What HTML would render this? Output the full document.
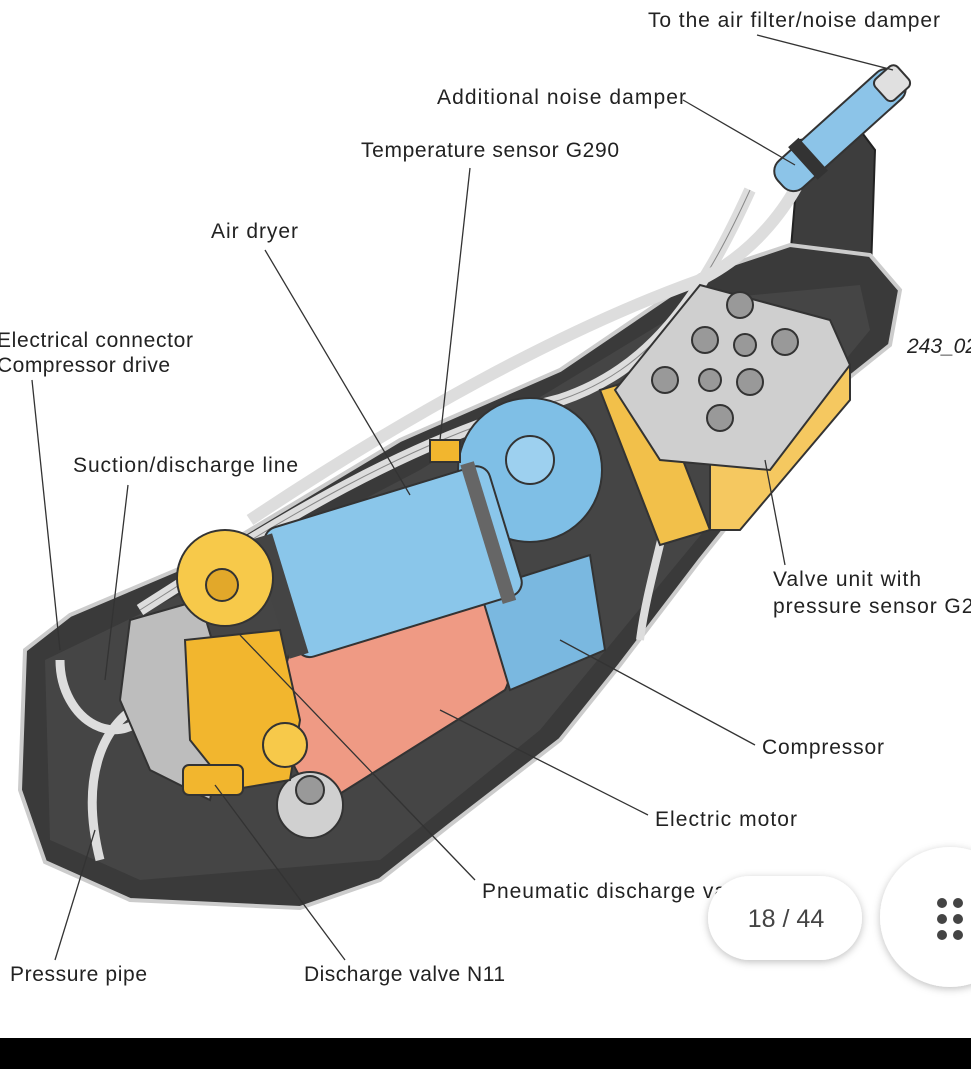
<!DOCTYPE html>
<html><head><meta charset="utf-8"><style>
html,body{margin:0;padding:0;background:#fff;width:971px;height:1069px;overflow:hidden}
svg{display:block}
text{font-family:"Liberation Sans",sans-serif;font-size:21px;fill:#222}
</style></head><body>
<svg width="971" height="1069" viewBox="0 0 971 1069" xmlns="http://www.w3.org/2000/svg">
<defs>
<filter id="sh" x="-30%" y="-30%" width="160%" height="160%"><feDropShadow dx="0" dy="2" stdDeviation="4" flood-color="#000" flood-opacity="0.25"/></filter>
</defs>
<rect width="971" height="1069" fill="#fff"/>
<polygon points="800,140 860,130 875,150 870,300 800,310 790,260" fill="#3d3d3d" stroke="#222" stroke-width="2"/>
<path d="M25,650 L70,615 L200,560 L400,440 L560,370 L700,275 L790,245 L870,255 L900,290 L890,345 L840,385 L700,560 L620,665 L560,740 L450,825 L380,880 L300,908 L130,900 L45,862 L20,790 Z" fill="#3a3a3a" stroke="#ccc" stroke-width="4"/>
<path d="M45,660 L200,585 L420,470 L700,300 L860,285 L870,330 L680,560 L540,730 L380,860 L140,880 L50,840 Z" fill="#454545"/>
<path d="M140,610 C250,540 400,440 560,400 C650,370 700,300 750,190" fill="none" stroke="#ddd" stroke-width="12"/>
<path d="M140,610 C250,540 400,440 560,400 C650,370 700,300 750,190" fill="none" stroke="#888" stroke-width="1"/>
<path d="M250,520 C400,420 560,330 700,280 C760,250 790,200 800,180" fill="none" stroke="#ddd" stroke-width="12"/>
<path d="M60,660 C60,720 120,760 160,700" fill="none" stroke="#ddd" stroke-width="9"/>
<path d="M100,860 C80,780 100,720 150,700" fill="none" stroke="#ddd" stroke-width="9"/>
<path d="M640,640 C650,560 690,470 680,370" fill="none" stroke="#ddd" stroke-width="8"/>
<g transform="rotate(-42 840 130)">
<rect x="760" y="112" width="160" height="36" rx="14" fill="#8cc4e8" stroke="#333" stroke-width="2"/>
<rect x="895" y="116" width="30" height="28" rx="6" fill="#e0e0e0" stroke="#333" stroke-width="2"/>
<rect x="790" y="108" width="14" height="44" fill="#333"/>
</g>
<polygon points="600,390 650,375 710,530 660,545" fill="#f2c04a" stroke="#333" stroke-width="2"/>
<polygon points="710,380 850,365 850,400 740,530 710,530" fill="#f5c860" stroke="#333" stroke-width="2"/>
<polygon points="615,390 700,285 830,320 850,365 770,470 660,460" fill="#cfcfcf" stroke="#333" stroke-width="2"/>
<g fill="#999" stroke="#333" stroke-width="2">
<circle cx="740" cy="305" r="13"/><circle cx="705" cy="340" r="13"/><circle cx="745" cy="345" r="11"/><circle cx="785" cy="342" r="13"/>
<circle cx="665" cy="380" r="13"/><circle cx="710" cy="380" r="11"/><circle cx="750" cy="382" r="13"/><circle cx="720" cy="418" r="13"/>
</g>
<path d="M290,650 L480,585 C510,600 520,660 505,690 L330,800 C290,790 270,720 290,650 Z" fill="#ef9a84" stroke="#333" stroke-width="2"/>
<polygon points="480,590 590,555 605,650 510,690" fill="#7ab8e0" stroke="#333" stroke-width="2"/>
<circle cx="530" cy="470" r="72" fill="#7fbfe6" stroke="#333" stroke-width="2"/>
<circle cx="530" cy="460" r="24" fill="#9dd0ef" stroke="#333" stroke-width="2"/>
<g transform="rotate(-17 390 560)">
<rect x="275" y="495" width="235" height="135" rx="14" fill="#8ac6ea" stroke="#333" stroke-width="2"/>
<rect x="265" y="500" width="20" height="125" fill="#444"/>
<rect x="485" y="490" width="14" height="145" fill="#666"/>
</g>
<polygon points="130,620 200,600 230,700 210,800 150,770 120,700" fill="#bdbdbd" stroke="#333" stroke-width="2"/>
<circle cx="310" cy="805" r="33" fill="#d0d0d0" stroke="#333" stroke-width="2"/>
<circle cx="310" cy="790" r="14" fill="#999" stroke="#333" stroke-width="2"/>
<path d="M185,640 L280,630 L300,720 L290,780 L230,790 L190,740 Z" fill="#f2b62e" stroke="#333" stroke-width="2"/>
<circle cx="225" cy="578" r="48" fill="#f7c94a" stroke="#333" stroke-width="2"/>
<circle cx="222" cy="585" r="16" fill="#e2a82a" stroke="#333" stroke-width="2"/>
<rect x="183" y="765" width="60" height="30" rx="6" fill="#f2b62e" stroke="#333" stroke-width="2"/>
<circle cx="285" cy="745" r="22" fill="#f7c94a" stroke="#333" stroke-width="2"/>
<rect x="430" y="440" width="30" height="22" fill="#f2b62e" stroke="#333" stroke-width="2"/>
<g stroke="#333" stroke-width="1.3" fill="none">
<line x1="757" y1="35" x2="893" y2="70"/>
<line x1="683" y1="100" x2="795" y2="165"/>
<line x1="470" y1="168" x2="440" y2="440"/>
<line x1="265" y1="250" x2="410" y2="495"/>
<line x1="32" y1="380" x2="60" y2="650"/>
<line x1="128" y1="485" x2="105" y2="680"/>
<line x1="785" y1="565" x2="765" y2="460"/>
<line x1="755" y1="745" x2="560" y2="640"/>
<line x1="648" y1="815" x2="440" y2="710"/>
<line x1="475" y1="880" x2="240" y2="635"/>
<line x1="55" y1="960" x2="95" y2="830"/>
<line x1="345" y1="960" x2="215" y2="785"/>
</g>
<text x="648" y="27" textLength="292" lengthAdjust="spacing">To the air filter/noise damper</text>
<text x="437" y="104" textLength="249" lengthAdjust="spacing">Additional noise damper</text>
<text x="361" y="157" textLength="258" lengthAdjust="spacing">Temperature sensor G290</text>
<text x="211" y="238" textLength="87" lengthAdjust="spacing">Air dryer</text>
<text x="-3" y="347" textLength="196" lengthAdjust="spacing">Electrical connector</text>
<text x="-3" y="372" textLength="173" lengthAdjust="spacing">Compressor drive</text>
<text x="73" y="472" textLength="225" lengthAdjust="spacing">Suction/discharge line</text>
<text x="907" y="353" textLength="70" lengthAdjust="spacing" style="font-style:italic">243_02</text>
<text x="773" y="586" textLength="148" lengthAdjust="spacing">Valve unit with</text>
<text x="773" y="613" textLength="213" lengthAdjust="spacing">pressure sensor G29</text>
<text x="762" y="754" textLength="122" lengthAdjust="spacing">Compressor</text>
<text x="655" y="826" textLength="142" lengthAdjust="spacing">Electric motor</text>
<text x="482" y="898" textLength="244" lengthAdjust="spacing">Pneumatic discharge va</text>
<text x="10" y="981" textLength="137" lengthAdjust="spacing">Pressure pipe</text>
<text x="304" y="981" textLength="201" lengthAdjust="spacing">Discharge valve N11</text>
<rect x="708" y="876" width="154" height="84" rx="42" fill="#fff" filter="url(#sh)"/>
<text x="786" y="927" text-anchor="middle" style="font-size:25px;fill:#444">18 / 44</text>
<circle cx="950" cy="917" r="70" fill="#fff" filter="url(#sh)"/>
<g fill="#444"><circle cx="942" cy="903" r="5"/><circle cx="958" cy="903" r="5"/><circle cx="942" cy="919" r="5"/><circle cx="958" cy="919" r="5"/><circle cx="942" cy="935" r="5"/><circle cx="958" cy="935" r="5"/></g>
<rect x="0" y="1038" width="971" height="31" fill="#000"/>
</svg>
</body></html>
